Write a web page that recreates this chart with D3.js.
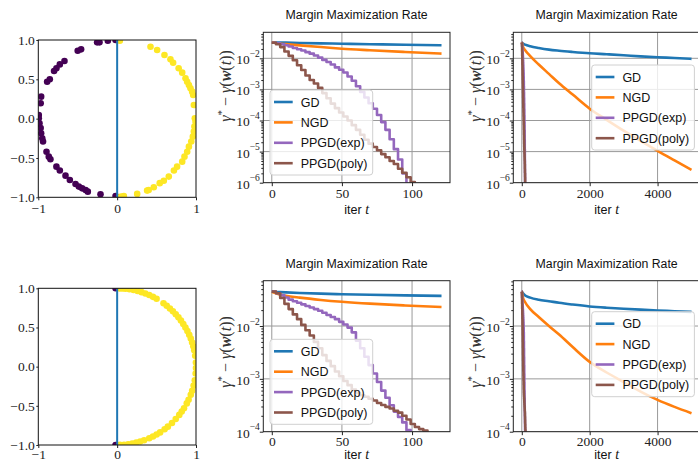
<!DOCTYPE html>
<html>
<head>
<meta charset="utf-8">
<script src="https://cdn.jsdelivr.net/npm/d3@7"></script>
<style>
  body { margin: 0; background: #fff; }
</style>
</head>
<body>
<script>
// ---------- scatter data (points on the unit circle) ----------
const topPurple = [
  [-0.254, 0.970], [-0.224, 0.970], [-0.118, 0.990], [-0.020, 1.000],
  [-0.500, 0.864], [-0.457, 0.881], [-0.668, 0.733], [-0.727, 0.690],
  [-0.770, 0.640], [-0.800, 0.606], [-0.854, 0.500], [-0.888, 0.470],
  [-0.964, 0.280], [-0.970, 0.195], [-0.994, 0.047], [-0.994, 0.004],
  [-0.985, -0.060], [-0.970, -0.120], [-0.964, -0.186], [-0.950, -0.250],
  [-0.940, -0.290], [-0.896, -0.420], [-0.867, -0.483], [-0.846, -0.517],
  [-0.770, -0.610], [-0.727, -0.660], [-0.655, -0.725], [-0.600, -0.780],
  [-0.528, -0.830], [-0.486, -0.864], [-0.444, -0.886], [-0.400, -0.907],
  [-0.372, -0.928], [-0.211, -0.962], [-0.020, -0.983]
];
const topYellow = [
  [0.034, 0.990], [0.423, 0.915], [0.507, 0.873], [0.600, 0.810],
  [0.676, 0.754], [0.710, 0.710], [0.780, 0.640], [0.825, 0.585],
  [0.867, 0.513], [0.888, 0.470], [0.910, 0.428], [0.930, 0.386],
  [0.951, 0.343], [0.964, 0.300], [0.973, 0.174], [0.985, 0.004],
  [0.994, -0.040], [0.980, -0.100], [0.973, -0.165], [0.960, -0.229],
  [0.940, -0.290], [0.910, -0.356], [0.888, -0.420], [0.854, -0.483],
  [0.825, -0.547], [0.760, -0.610], [0.720, -0.660], [0.655, -0.737],
  [0.592, -0.790], [0.540, -0.820], [0.465, -0.873], [0.400, -0.907],
  [0.380, -0.915], [0.254, -0.957], [0.085, -0.983], [0.050, -0.990]
];
const botPurple = [[-0.02, 1.0], [-0.02, -1.0]];
const botYellow = [
  [0.035, 0.999], [0.070, 0.998], [0.105, 0.995], [0.156, 0.988], [0.208, 0.978],
  [0.259, 0.966], [0.309, 0.951], [0.358, 0.934], [0.407, 0.914], [0.454, 0.891],
  [0.500, 0.866], [0.588, 0.809], [0.629, 0.777], [0.669, 0.743], [0.707, 0.707],
  [0.743, 0.669], [0.777, 0.629], [0.809, 0.588], [0.839, 0.545], [0.866, 0.500],
  [0.891, 0.454], [0.914, 0.407], [0.934, 0.358], [0.951, 0.309], [0.966, 0.259],
  [0.978, 0.208], [0.990, 0.139], [0.999, 0.052], [1.000, -0.017], [0.996, -0.087],
  [0.985, -0.174], [0.970, -0.242], [0.951, -0.309], [0.934, -0.358], [0.906, -0.423],
  [0.883, -0.469], [0.848, -0.530], [0.819, -0.574], [0.788, -0.616], [0.743, -0.669],
  [0.695, -0.719], [0.643, -0.766], [0.602, -0.799], [0.545, -0.839], [0.500, -0.866],
  [0.454, -0.891], [0.407, -0.914], [0.342, -0.940], [0.292, -0.956], [0.242, -0.970],
  [0.191, -0.982], [0.139, -0.990], [0.087, -0.996], [0.035, -0.999]
];

// ---------- margin curves ----------
const itersShort = [0, 5, 10, 20, 35, 50, 70, 95, 121];
const itersLong = [0, 30, 100, 250, 500, 800, 1100, 1500, 2000, 2500, 3000, 3500, 4000, 4500, 5000];
const itersStep = [0, 3, 6, 9, 12, 15, 18, 21, 24, 27, 30, 33, 36, 39, 42, 45, 48, 51, 54,
  57, 60, 63, 66, 69, 72, 75, 78, 81, 84, 87, 90, 93, 96, 99, 102, 105, 108, 111];

// top row
const gdTopShort  = [3.27e-2, 3.23e-2, 3.19e-2, 3.12e-2, 3.03e-2, 2.94e-2, 2.84e-2, 2.72e-2, 2.62e-2];
const ngdTopShort = [3.27e-2, 3.0e-2, 2.85e-2, 2.6e-2, 2.3e-2, 2.04e-2, 1.82e-2, 1.6e-2, 1.41e-2];
const gdTopLong  = [3.27e-2, 3.0e-2, 2.75e-2, 2.45e-2, 2.15e-2, 1.9e-2, 1.75e-2, 1.6e-2, 1.45e-2,
  1.35e-2, 1.25e-2, 1.15e-2, 1.08e-2, 1.02e-2, 9.6e-3];
const ngdTopLong = [3.27e-2, 2.4e-2, 1.82e-2, 1.17e-2, 6.3e-3, 3.16e-3, 1.58e-3, 6.8e-4, 2.4e-4,
  1.05e-4, 4.7e-5, 2.2e-5, 1.05e-5, 5.2e-6, 2.6e-6];
const expTop = [3.16e-2, 3.02e-2, 2.82e-2, 2.63e-2, 2.40e-2, 2.14e-2, 1.95e-2, 1.78e-2, 1.58e-2,
  1.41e-2, 1.23e-2, 1.05e-2, 8.9e-3, 7.6e-3, 6.3e-3, 5.1e-3, 4.3e-3, 3.5e-3, 2.6e-3, 1.9e-3,
  1.26e-3, 8.3e-4, 5.5e-4, 3.6e-4, 2.4e-4, 1.5e-4, 8.9e-5, 5.0e-5, 2.5e-5, 1.2e-5, 5.6e-6,
  2.0e-6, 6.3e-7];
const polyTop = [3.16e-2, 2.82e-2, 2.29e-2, 1.66e-2, 1.20e-2, 8.7e-3, 6.0e-3, 4.2e-3, 2.8e-3,
  2.0e-3, 1.55e-3, 1.12e-3, 7.6e-4, 5.2e-4, 3.5e-4, 2.5e-4, 1.8e-4, 1.35e-4, 1.0e-4, 7.1e-5,
  5.0e-5, 3.5e-5, 2.4e-5, 1.8e-5, 1.4e-5, 1.1e-5, 8.3e-6, 6.6e-6, 5.0e-6, 4.0e-6, 2.8e-6,
  2.1e-6, 1.5e-6, 1.05e-6, 7.9e-7];

// bottom row
const gdBotShort  = [4.47e-2, 4.4e-2, 4.33e-2, 4.22e-2, 4.1e-2, 4.0e-2, 3.9e-2, 3.8e-2, 3.72e-2];
const ngdBotShort = [4.47e-2, 4.0e-2, 3.75e-2, 3.45e-2, 3.12e-2, 2.88e-2, 2.65e-2, 2.45e-2, 2.29e-2];
const gdBotLong  = [4.47e-2, 4.2e-2, 3.8e-2, 3.45e-2, 3.15e-2, 2.95e-2, 2.75e-2, 2.55e-2, 2.35e-2,
  2.22e-2, 2.12e-2, 2.04e-2, 1.97e-2, 1.91e-2, 1.85e-2];
const ngdBotLong = [4.47e-2, 3.55e-2, 2.82e-2, 2.09e-2, 1.48e-2, 1.0e-2, 6.9e-3, 4.0e-3, 2.1e-3,
  1.32e-3, 8.7e-4, 5.75e-4, 4.0e-4, 2.95e-4, 2.24e-4];
const expBot = [4.47e-2, 4.17e-2, 3.80e-2, 3.47e-2, 3.16e-2, 2.95e-2, 2.75e-2, 2.57e-2, 2.40e-2,
  2.24e-2, 2.09e-2, 1.95e-2, 1.78e-2, 1.62e-2, 1.48e-2, 1.35e-2, 1.20e-2, 1.07e-2, 9.33e-3,
  7.59e-3, 5.25e-3, 3.80e-3, 2.63e-3, 1.82e-3, 1.26e-3, 8.7e-4, 6.0e-4, 4.4e-4, 3.16e-4,
  2.4e-4, 1.9e-4, 1.5e-4, 1.07e-4, 6.3e-5];
const polyBot = [4.47e-2, 4.17e-2, 3.39e-2, 2.63e-2, 2.09e-2, 1.66e-2, 1.35e-2, 1.05e-2, 8.32e-3,
  6.61e-3, 5.01e-3, 3.80e-3, 2.82e-3, 2.19e-3, 1.74e-3, 1.38e-3, 1.12e-3, 9.1e-4, 7.6e-4,
  6.3e-4, 5.4e-4, 4.9e-4, 4.6e-4, 4.2e-4, 3.9e-4, 3.5e-4, 3.2e-4, 2.95e-4, 2.75e-4, 2.5e-4,
  2.3e-4, 2.0e-4, 1.7e-4, 1.4e-4, 1.23e-4, 1.12e-4, 1.05e-4, 8.9e-5];

const seriesNames = ["GD", "NGD", "PPGD(exp)", "PPGD(poly)"];
const seriesColors = ["#1f77b4", "#ff7f0e", "#9467bd", "#8c564b"];
const purple = "#440154", yellow = "#fde725";

const serif = "'Liberation Serif', 'DejaVu Serif', serif";
const sans = "'Liberation Sans', 'DejaVu Sans', sans-serif";

const svg = d3.select("body").append("svg")
  .attr("width", 698)
  .attr("height", 462)
  .style("display", "block");

let clipId = 0;
function clip(box) {
  const id = "clip" + (clipId++);
  svg.append("clipPath").attr("id", id)
    .append("rect")
    .attr("x", box.left).attr("y", box.top)
    .attr("width", box.right - box.left).attr("height", box.bottom - box.top);
  return `url(#${id})`;
}

function styleAxis(g, size) {
  g.select(".domain").remove();
  g.selectAll(".tick line").attr("stroke", "#222");
  g.selectAll(".tick text").attr("font-family", serif).attr("font-size", size).attr("fill", "#222");
}

const minus = v => String(v).replace("-", "\u2212");

function drawScatter(box, purplePts, yellowPts) {
  const x = d3.scaleLinear().domain([-1, 1]).range([box.left, box.right]);
  const y = d3.scaleLinear().domain([-1, 1]).range([box.bottom, box.top]);
  const cp = clip(box);

  const pts = svg.append("g").attr("clip-path", cp);
  pts.selectAll("circle.p").data(purplePts).enter().append("circle")
    .attr("cx", d => x(d[0])).attr("cy", d => y(d[1])).attr("r", 3.3).attr("fill", purple);
  pts.selectAll("circle.y").data(yellowPts).enter().append("circle")
    .attr("cx", d => x(d[0])).attr("cy", d => y(d[1])).attr("r", 3.3).attr("fill", yellow);
  pts.append("line")
    .attr("x1", x(0)).attr("x2", x(0)).attr("y1", y(-1)).attr("y2", y(1))
    .attr("stroke", "#1f77b4").attr("stroke-width", 2);

  svg.append("rect")
    .attr("x", box.left).attr("y", box.top)
    .attr("width", box.right - box.left).attr("height", box.bottom - box.top)
    .attr("fill", "none").attr("stroke", "#111").attr("stroke-width", 1);

  svg.append("g").attr("transform", `translate(0,${box.bottom})`)
    .call(d3.axisBottom(x).tickValues([-1, 0, 1]).tickSize(3).tickPadding(box.xPad).tickFormat(minus))
    .call(g => styleAxis(g, 13.5));
  svg.append("g").attr("transform", `translate(${box.left},0)`)
    .call(d3.axisLeft(y).tickValues([-1, -0.5, 0, 0.5, 1]).tickSize(2).tickPadding(1.5)
      .tickFormat(d => minus(d3.format(".1f")(d))))
    .call(g => styleAxis(g, 13.5));
}

function drawRate(opt) {
  const box = opt.box;
  const x = d3.scaleLinear().domain(opt.xDomain).range([box.left, box.right]);
  const y = d3.scaleLog().domain(opt.yDomain).range([box.bottom, box.top]);
  const cp = clip(box);

  // grid
  const grid = svg.append("g").attr("clip-path", cp);
  grid.selectAll("line.gx").data(opt.xTicks).enter().append("line")
    .attr("x1", d => x(d)).attr("x2", d => x(d))
    .attr("y1", box.top).attr("y2", box.bottom)
    .attr("stroke", "#999").attr("stroke-width", 1);
  grid.selectAll("line.gy").data(opt.yMajor).enter().append("line")
    .attr("x1", box.left).attr("x2", box.right)
    .attr("y1", d => y(d)).attr("y2", d => y(d))
    .attr("stroke", "#999").attr("stroke-width", 1);

  // curves
  const plot = svg.append("g").attr("clip-path", cp);
  opt.series.forEach((s, i) => {
    const pts = s.iters.slice(0, s.values.length).map((t, k) => [t, s.values[k]]);
    plot.append("path")
      .datum(pts)
      .attr("fill", "none")
      .attr("stroke", seriesColors[i])
      .attr("stroke-width", 2.6)
      .attr("stroke-linejoin", "round")
      .attr("d", d3.line().x(d => x(d[0])).y(d => y(d[1]))
        .curve(s.step ? d3.curveStepAfter : d3.curveMonotoneX));
  });

  // spines
  svg.append("rect")
    .attr("x", box.left).attr("y", box.top)
    .attr("width", box.right - box.left).attr("height", box.bottom - box.top)
    .attr("fill", "none").attr("stroke", "#222").attr("stroke-width", 1);

  // x axis
  svg.append("g").attr("transform", `translate(0,${box.bottom})`)
    .call(d3.axisBottom(x).tickValues(opt.xTicks).tickSize(3.5).tickPadding(opt.xPad).tickFormat(d => d))
    .call(g => styleAxis(g, 13.5));

  // y axis: minor + major
  const minor = y.ticks().filter(v => opt.yMajor.indexOf(v) < 0);
  svg.append("g").attr("transform", `translate(${box.left},0)`)
    .call(d3.axisLeft(y).tickValues(minor).tickSize(2).tickFormat(""))
    .call(g => styleAxis(g, 12));
  const ya = svg.append("g").attr("transform", `translate(${box.left},0)`)
    .call(d3.axisLeft(y).tickValues(opt.yMajor).tickSize(3.5).tickFormat(""))
    .call(g => styleAxis(g, 12));
  ya.selectAll(".tick text").remove();
  ya.selectAll(".tick").each(function(d) {
    const t = d3.select(this).append("text")
      .attr("x", -3.5).attr("dy", "0.4em")
      .attr("text-anchor", "end")
      .attr("font-family", serif).attr("font-size", 13.5).attr("fill", "#222");
    t.append("tspan").text("10");
    t.append("tspan").attr("font-size", 9.5).attr("dy", "-0.75em")
      .text("\u2212" + Math.round(-Math.log10(d)));
  });

  // title
  svg.append("text")
    .attr("x", (box.left + box.right) / 2).attr("y", opt.titleY)
    .attr("text-anchor", "middle")
    .attr("font-family", sans).attr("font-size", 12.3).attr("fill", "#111")
    .text("Margin Maximization Rate");

  // x label
  const xl = svg.append("text")
    .attr("x", (box.left + box.right) / 2).attr("y", opt.xLabelY)
    .attr("text-anchor", "middle")
    .attr("font-family", sans).attr("font-size", 12.5).attr("fill", "#111");
  xl.append("tspan").text("iter ");
  xl.append("tspan").attr("font-family", serif).attr("font-style", "italic").attr("font-size", 14).text("t");

  // y label
  const yl = svg.append("text")
    .attr("transform", `translate(${box.left - 32.5},${opt.yLabelY}) rotate(-90)`)
    .attr("text-anchor", "middle")
    .attr("font-family", serif).attr("font-size", 16).attr("fill", "#333");
  yl.append("tspan").attr("font-style", "italic").text("\u03b3");
  yl.append("tspan").attr("font-size", 11).attr("dy", -6).text("*");
  yl.append("tspan").attr("dy", 6).text(" \u2212 ");
  yl.append("tspan").attr("font-style", "italic").text("\u03b3");
  yl.append("tspan").text("(");
  yl.append("tspan").attr("font-style", "italic").attr("font-weight", "bold").text("w");
  yl.append("tspan").text("(");
  yl.append("tspan").attr("font-style", "italic").text("t");
  yl.append("tspan").text("))");

  // legend
  const lg = svg.append("g").attr("transform", `translate(${opt.legend[0]},${opt.legend[1]})`);
  lg.append("rect")
    .attr("width", 102.7).attr("height", 85)
    .attr("rx", 3).attr("fill", "#fff").attr("fill-opacity", 0.8)
    .attr("stroke", "#d0d0d0").attr("stroke-width", 1);
  seriesNames.forEach((name, i) => {
    const yy = 12 + i * 20.4;
    lg.append("line")
      .attr("x1", 4).attr("x2", 22.7).attr("y1", yy).attr("y2", yy)
      .attr("stroke", seriesColors[i]).attr("stroke-width", 2.6);
    lg.append("text")
      .attr("x", 30.7).attr("y", yy + 4.5)
      .attr("font-family", sans).attr("font-size", 12.5).attr("fill", "#111")
      .text(name);
  });
}

// ---------- top row ----------
drawScatter({ left: 38.3, right: 196, top: 40, bottom: 197.3, xPad: 3 }, topPurple, topYellow);

drawRate({
  box: { left: 263.3, right: 450, top: 32.3, bottom: 182.7 },
  xDomain: [-6.05, 127.05], xTicks: [0, 50, 100], xPad: 2.2,
  yDomain: [1e-6, 0.0686], yMajor: [1e-6, 1e-5, 1e-4, 1e-3, 1e-2],
  series: [
    { iters: itersShort, values: gdTopShort },
    { iters: itersShort, values: ngdTopShort },
    { iters: itersStep, values: expTop, step: true },
    { iters: itersStep, values: polyTop, step: true }
  ],
  titleY: 19, xLabelY: 214, yLabelY: 86, legend: [270, 90]
});

drawRate({
  box: { left: 513.3, right: 700, top: 32.3, bottom: 182.7 },
  xDomain: [-250, 5250], xTicks: [0, 2000, 4000], xPad: 2.2,
  yDomain: [1e-6, 0.0686], yMajor: [1e-6, 1e-5, 1e-4, 1e-3, 1e-2],
  series: [
    { iters: itersLong, values: gdTopLong },
    { iters: itersLong, values: ngdTopLong },
    { iters: itersStep, values: expTop, step: true },
    { iters: itersStep, values: polyTop, step: true }
  ],
  titleY: 19, xLabelY: 214, yLabelY: 86, legend: [591.7, 65]
});

// ---------- bottom row ----------
drawScatter({ left: 38.3, right: 196, top: 288.3, bottom: 445, xPad: 1 }, botPurple, botYellow);

drawRate({
  box: { left: 263.3, right: 450, top: 280.7, bottom: 431.7 },
  xDomain: [-6.05, 127.05], xTicks: [0, 50, 100], xPad: 1.2,
  yDomain: [1e-4, 0.0721], yMajor: [1e-4, 1e-3, 1e-2],
  series: [
    { iters: itersShort, values: gdBotShort },
    { iters: itersShort, values: ngdBotShort },
    { iters: itersStep, values: expBot, step: true },
    { iters: itersStep, values: polyBot, step: true }
  ],
  titleY: 267.5, xLabelY: 458.5, yLabelY: 352, legend: [270, 339.3]
});

drawRate({
  box: { left: 513.3, right: 700, top: 280.7, bottom: 431.7 },
  xDomain: [-250, 5250], xTicks: [0, 2000, 4000], xPad: 1.2,
  yDomain: [1e-4, 0.0721], yMajor: [1e-4, 1e-3, 1e-2],
  series: [
    { iters: itersLong, values: gdBotLong },
    { iters: itersLong, values: ngdBotLong },
    { iters: itersStep, values: expBot, step: true },
    { iters: itersStep, values: polyBot, step: true }
  ],
  titleY: 267.5, xLabelY: 458.5, yLabelY: 352, legend: [591.7, 311.7]
});
</script>
</body>
</html>
